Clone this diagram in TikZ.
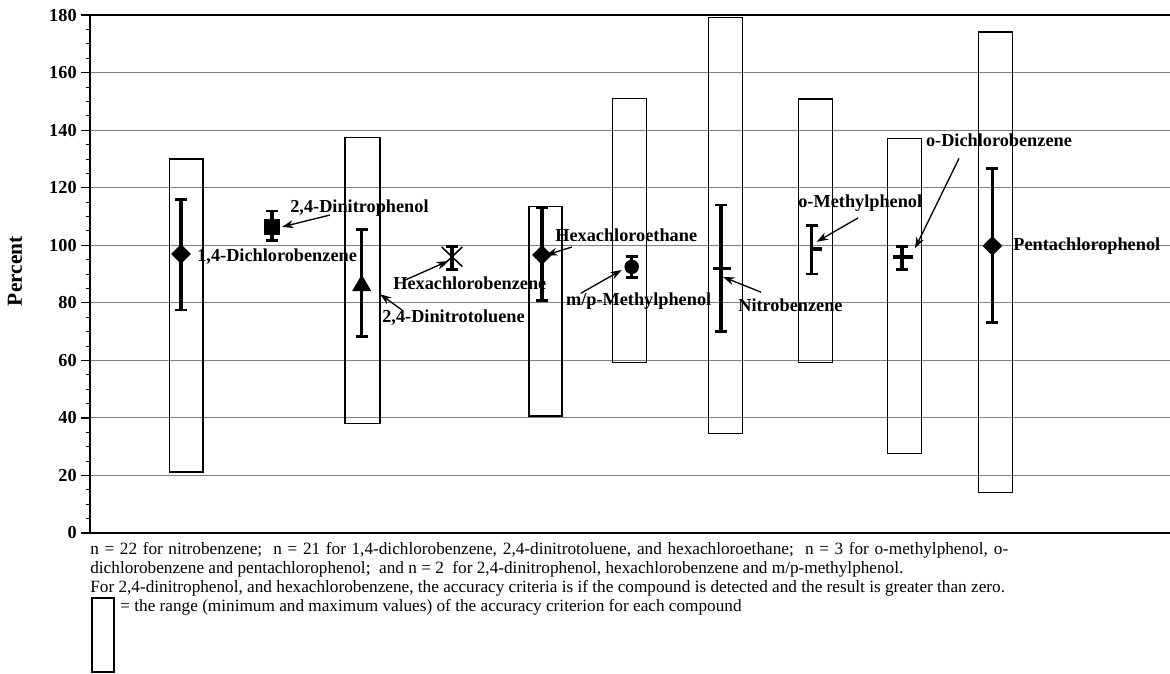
\documentclass[tikz,border=0pt]{standalone}
\usepackage{fontspec}
\setmainfont{Liberation Serif}
\usetikzlibrary{arrows.meta,calc,shapes.geometric,shapes.misc}

\tikzset{
  gridln/.style={draw=black!50, line width=0.55pt},
  axisln/.style={draw=black, line width=1.1pt},
  rangebox/.style={draw=black, line width=0.85pt},
  errln/.style={line width=1.9pt},
  capln/.style={line width=1.6pt},
  numlbl/.style={font=\bfseries\fontsize{10.4}{12}\selectfont, inner sep=0pt},
  cmpd/.style={font=\bfseries\fontsize{10.4}{12}\selectfont, inner sep=0pt, anchor=west},
  notetxt/.style={font=\fontsize{9.8}{10.8}\selectfont, inner sep=0pt, anchor=base west},
  callout/.style={-{Stealth[length=6.5pt,width=4.5pt]}, line width=0.75pt},
  dmd/.style={diamond, fill=black, inner sep=0pt, minimum width=0.4cm, minimum height=0.4cm},
  sqr/.style={rectangle, fill=black, inner sep=0pt, minimum size=0.31cm},
  tri/.style={regular polygon, regular polygon sides=3, fill=black, inner sep=0pt, minimum size=0.44cm},
  rnd/.style={circle, fill=black, inner sep=0pt, minimum size=0.29cm},
  xmk/.style={cross out, draw=black, line width=0.9pt, inner sep=0pt, minimum width=0.38cm, minimum height=0.36cm},
  dsh/.style={rectangle, fill=black, inner sep=0pt, minimum height=0.08cm},
}

% error bar: x, low, high
\newcommand{\errbar}[3]{%
  \draw[errln] (#1,#2) -- (#1,#3);
  \draw[capln] (#1-6,#2) -- (#1+6,#2);
  \draw[capln] (#1-6,#3) -- (#1+6,#3);
}

\begin{document}
\begin{tikzpicture}[x=0.02cm, y=0.02cm]
\useasboundingbox (0,0) rectangle (1170,673);

\begin{scope}[shift={(0,140)}, y=0.05756cm]
  % grid and axis
  \foreach \v in {20,40,...,160}
    \draw[gridln] (90,\v) -- (1170,\v);
  \foreach \v in {0,5,...,180}
    \draw[black, line width=0.5pt] (86,\v) -- (90,\v);
  \foreach \v in {0,20,...,180} {
    \draw[black, line width=0.7pt] (81,\v) -- (90,\v);
    \node[numlbl, anchor=east] at (77,\v) {\v};
  }
  \draw[axisln] (1170,180) -- (90,180) -- (90,0) -- (1170,0);
  \node[rotate=90, font=\bfseries\fontsize{12.2}{14}\selectfont, inner sep=0pt] (ylab) at (15,91) {Percent};

  % ranges of the accuracy criterion
  \draw[rangebox] (169.3,21.2) rectangle (203,130);
  \draw[rangebox] (345,38) rectangle (380,137.4);
  \draw[rangebox] (529,40.7) rectangle (562,113.4);
  \draw[rangebox] (612.7,59.2) rectangle (646.3,151);
  \draw[rangebox] (708.3,34.6) rectangle (742.7,179.2);
  \draw[rangebox] (798.3,59.2) rectangle (832.3,150.8);
  \draw[rangebox] (887.3,27.7) rectangle (921.3,137.1);
  \draw[rangebox] (978.3,14) rectangle (1012.3,174.2);

  % error bars
  \errbar{181}{77.5}{116}
  \errbar{272}{101.8}{111.9}
  \errbar{361.7}{68.4}{105.5}
  \errbar{452}{91.7}{99.7}
  \errbar{542}{80.7}{113}
  \errbar{631.7}{88.9}{96}
  \errbar{721}{70}{114}
  \errbar{811.7}{90}{107}
  \errbar{902}{91.6}{99.7}
  \errbar{992.3}{73.1}{126.7}

  % means
  \node[dmd] (m1) at (181,97) {};
  \node[sqr] (m2) at (272,106.4) {};
  \node[tri] (m3) at (361.7,86) {};
  \node[xmk] (m4) at (452,96) {};
  \node[dmd] (m5) at (542,96.6) {};
  \node[rnd] (m6) at (631.7,92.5) {};
  \node[dsh, minimum width=0.36cm, minimum height=0.05cm] (m7) at (721.7,92) {};
  \node[dsh, minimum width=0.2cm] (m8) at (816.7,98.6) {};
  \node[dsh, minimum width=0.4cm] (m9) at (902.5,95.9) {};
  \node[dmd] (m10) at (992.3,99.8) {};

  % compound labels
  \node[cmpd] (l1) at (197,96.2) {1,4-Dichlorobenzene};
  \node[cmpd] (l2) at (290,112.9) {2,4-Dinitrophenol};
  \node[cmpd] (l3) at (382,75) {2,4-Dinitrotoluene};
  \node[cmpd] (l4) at (393,86.9) {Hexachlorobenzene};
  \node[cmpd] (l5) at (555,103.5) {Hexachloroethane};
  \node[cmpd] (l6) at (565.7,80.6) {m/p-Methylphenol};
  \node[cmpd] (l7) at (738,79.2) {Nitrobenzene};
  \node[cmpd] (l8) at (798,114.5) {o-Methylphenol};
  \node[cmpd] (l9) at (925.7,136.5) {o-Dichlorobenzene};
  \node[cmpd] (l10) at (1013,99.8) {Pentachlorophenol};

  % callouts
  \draw[callout] ($(l2.west)+(40,-2.4)$) -- ($(m2)+(10,0)$);
  \draw[callout] ($(l3.west)+(20,2.5)$) -- ($(m3)+(18.3,-3)$);
  \draw[callout] ($(l4.west)+(12,1)$) -- ($(m4)+(-4,-1.5)$);
  \draw[callout] ($(l5.west)+(17,-4.1)$) -- ($(m5)+(4,0)$);
  \draw[callout] ($(l6.west)+(15,2.7)$) -- ($(m6)+(-10,-1.1)$);
  \draw[callout] ($(l7.west)+(23,4.5)$) -- ($(m7)+(1.3,-3)$);
  \draw[callout] ($(l8.west)+(60,-5)$) -- ($(m8)+(0,2.6)$);
  \draw[callout] ($(l9.west)+(33.3,-6.3)$) -- ($(m9)+(12.5,3)$);
\end{scope}

% notes
\node[notetxt] (n1) at (90,118) {\hbox to 18.36cm{n = 22 for nitrobenzene;\ \ n = 21 for 1,4-dichlorobenzene, 2,4-dinitrotoluene, and hexachloroethane;\ \ n = 3 for o-methylphenol, o-}};
\node[notetxt] (n2) at (90,99) {dichlorobenzene and pentachlorophenol;\ \ and n = 2\ \ for 2,4-dinitrophenol, hexachlorobenzene and m/p-methylphenol.};
\node[notetxt] (n3) at (90,80) {For 2,4-dinitrophenol, and hexachlorobenzene, the accuracy criteria is if the compound is detected and the result is greater than zero.};
\draw[rangebox, line width=1.1pt] (92,1) rectangle (114,75);
\node[notetxt] (n4) at (120,61) {= the range (minimum and maximum values) of the accuracy criterion for each compound};
\end{tikzpicture}
\end{document}
